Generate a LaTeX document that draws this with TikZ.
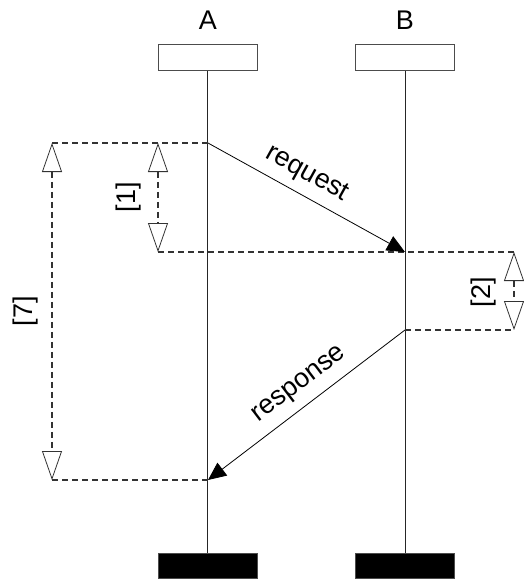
\documentclass[tikz,border=0pt]{standalone}
\usepackage{fontspec}
\setmainfont{Liberation Sans}
\usetikzlibrary{arrows.meta}
\begin{document}
\begin{tikzpicture}[x=1pt,y=1pt,
  font=\fontsize{27}{31}\selectfont,
  headbox/.style={draw=black!70, line width=1pt, fill=white,
    minimum width=99pt, minimum height=26pt, inner sep=0pt},
  tailbox/.style={draw=black!70, line width=1pt, fill=black,
    minimum width=99pt, minimum height=25pt, inner sep=0pt},
  lifeline/.style={draw=black!85, line width=1pt},
  guide/.style={draw=black!80, line width=1.1pt, dash pattern=on 6pt off 4pt},
  span/.style={guide,
    {Triangle[open,length=29pt,width=20pt,line width=0.8pt]}-{Triangle[open,length=29pt,width=20pt,line width=0.8pt]}},
  msg/.style={draw=black, line width=0.8pt, -{Triangle[length=18pt,width=16pt]}},
  lbl/.style={inner sep=0pt}
]
\useasboundingbox (0,0) rectangle (524,-579);

% participants
\node[lbl] (labA) at (208,-20) {A};
\node[lbl] (labB) at (405,-20) {B};
\node[headbox] (headA) at (207.5,-57) {};
\node[headbox] (headB) at (405,-57) {};
\node[tailbox] (tailA) at (207.5,-565.5) {};
\node[tailbox] (tailB) at (405,-565.5) {};

% lifelines
\draw[lifeline] (headA.south) -- (tailA.north);
\draw[lifeline] (headB.south) -- (tailB.north);

% message end points
\coordinate (a1) at (208,-143);
\coordinate (b1) at (405,-252);
\coordinate (b2) at (405,-330);
\coordinate (a2) at (208,-480);

% dimension anchors
\coordinate (c7t) at (52,-143);
\coordinate (c7b) at (52,-480);
\coordinate (c1t) at (158,-143);
\coordinate (c1b) at (158,-252);
\coordinate (c2t) at (514,-252);
\coordinate (c2b) at (514,-330);

% dashed guide lines
\draw[guide] (c7t) -- (a1);
\draw[guide] (c1b) -- (b1) -- (c2t);
\draw[guide] (b2) -- (c2b);
\draw[guide] (c7b) -- (a2);

% messages
\draw[msg] (a1) -- (b1);
\draw[msg] (b2) -- (a2);
\node[lbl, rotate=-28.95] (lreq) at (307,-174) {request};
\node[lbl, rotate=37.3] (lresp) at (300,-385) {response};

% intervals
\draw[span] (c7t) -- (c7b);
\draw[span] (c1t) -- (c1b);
\draw[span] (c2t) -- (c2b);
\node[lbl, rotate=90] (l7) at (26,-311) {[7]};
\node[lbl, rotate=90] (l1) at (129,-197) {[1]};
\node[lbl, rotate=90] (l2) at (484,-292) {[2]};
\end{tikzpicture}
\end{document}
